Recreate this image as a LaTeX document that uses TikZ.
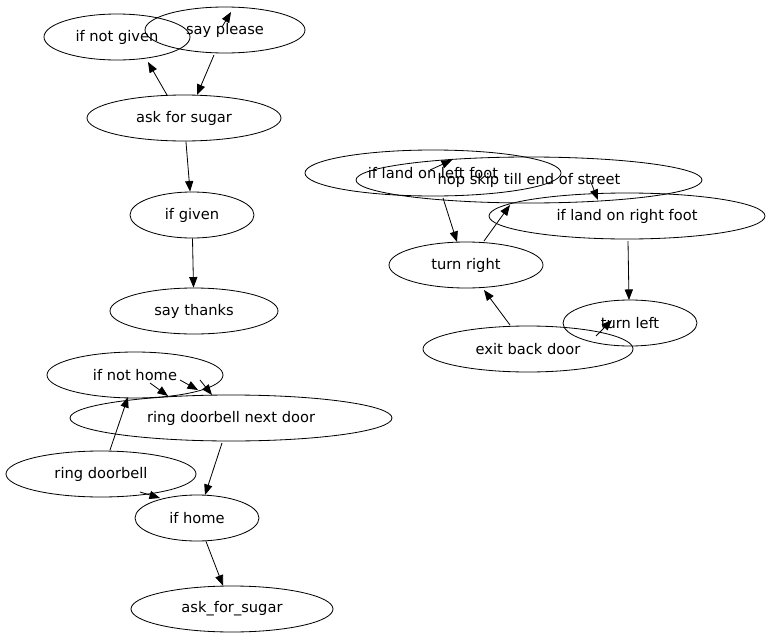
\documentclass[tikz,border=0pt]{standalone}
\usepackage{fontspec}
\setmainfont{DejaVu Sans}
\usetikzlibrary{shapes.geometric,arrows.meta}
\tikzstyle{state} = [ellipse, draw, line width=0.7pt, inner sep=0pt, minimum height=46*0.03cm, font=\fontsize{12.5}{14}\selectfont]
\tikzstyle{arrow} = [draw, line width=0.7pt, -{Triangle[length=9pt,width=7pt]}]

\begin{document}
\begin{tikzpicture}[x=0.03cm, y=-0.03cm]
\useasboundingbox (0,0) rectangle (772,641);

%% sugar
\node[state, minimum width=146*0.03cm] at (117,37) (ifnotgiven) {if not given};
\node[state, minimum width=160*0.03cm] at (225,30) (sayplease) {say please};
\node[state, minimum width=194*0.03cm] at (184,118) (askforsugar) {ask for sugar};
\node[state, minimum width=124*0.03cm] at (192,215) (ifgiven) {if given};
\node[state, minimum width=168*0.03cm] at (194,311) (saythanks) {say thanks};
\coordinate (p1) at (222,27);
\coordinate (p2) at (231,12);
\coordinate (a1) at (167,95);
\coordinate (a2) at (148,62);
\coordinate (a3) at (214,55);
\coordinate (a4) at (197,95);
\path[arrow] (a1) -- (a2);
\path[arrow] (a3) -- (a4);
\path[arrow] (p1) -- (p2);
\path[arrow] (askforsugar) -- (ifgiven);
\path[arrow] (ifgiven) -- (saythanks);

%% doorbell
\node[state, minimum width=176*0.03cm] at (135,375) (ifnothome) {if not home};
\node[state, minimum width=322*0.03cm] at (231,418) (nextdoor) {ring doorbell next door};
\node[state, minimum width=190*0.03cm] at (101,474) (ringdoorbell) {ring doorbell};
\node[state, minimum width=124*0.03cm] at (197,518) (ifhome) {if home};
\node[state, minimum width=202*0.03cm] at (232,609) (askforsugartwo) {ask\_for\_sugar};
\coordinate (q1) at (150,383);
\coordinate (q2) at (168,396);
\coordinate (q3) at (180,380);
\coordinate (q4) at (198,390);
\coordinate (q5) at (200,380);
\coordinate (q6) at (212,395);
\coordinate (q7) at (140,492);
\coordinate (q8) at (160,498);
\coordinate (b1) at (110,450);
\coordinate (b2) at (128,397);
\coordinate (b3) at (222,443);
\coordinate (b4) at (205,495);
\path[arrow] (b1) -- (b2);
\path[arrow] (q1) -- (q2);
\path[arrow] (q3) -- (q4);
\path[arrow] (q5) -- (q6);
\path[arrow] (q7) -- (q8);
\path[arrow] (b3) -- (b4);
\path[arrow] (ifhome) -- (askforsugartwo);

%% hopscotch
\node[state, minimum width=256*0.03cm] at (433,173) (leftfoot) {if land on left foot};
\node[state, minimum width=346*0.03cm] at (529,180) (hopskip) {hop skip till end of street};
\node[state, minimum width=276*0.03cm] at (627,216) (rightfoot) {if land on right foot};
\node[state, minimum width=154*0.03cm] at (466,265) (turnright) {turn right};
\node[state, minimum width=134*0.03cm] at (630,323) (turnleft) {turn left};
\node[state, minimum width=210*0.03cm] at (528,349) (exitback) {exit back door};
\coordinate (r1) at (430,170);
\coordinate (r2) at (452,160);
\coordinate (r3) at (590,180);
\coordinate (r4) at (598,200);
\coordinate (r5) at (596,336);
\coordinate (r6) at (612,320);
\coordinate (c1) at (443,198);
\coordinate (c2) at (457,242);
\coordinate (c3) at (484,241);
\coordinate (c4) at (510,205);
\coordinate (c5) at (628,241);
\coordinate (c6) at (629,300);
\coordinate (c7) at (510,325);
\coordinate (c8) at (484,290);
\path[arrow] (r1) -- (r2);
\path[arrow] (r3) -- (r4);
\path[arrow] (c1) -- (c2);
\path[arrow] (c3) -- (c4);
\path[arrow] (c5) -- (c6);
\path[arrow] (c7) -- (c8);
\path[arrow] (r5) -- (r6);
\end{tikzpicture}
\end{document}
